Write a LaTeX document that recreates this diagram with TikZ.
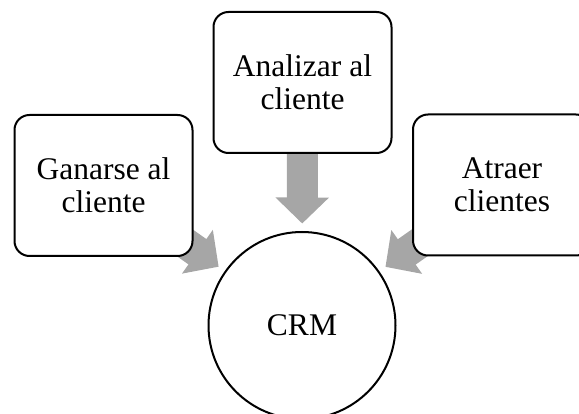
\documentclass[tikz,border=0pt]{standalone}
\usepackage{fontspec}
\setmainfont{Liberation Serif}
\usetikzlibrary{arrows.meta,backgrounds}
\definecolor{arrowgray}{HTML}{A6A6A6}
\tikzset{
  box/.style={draw=black, line width=2pt, rounded corners=15pt, fill=white,
    minimum width=178pt, minimum height=141pt, inner sep=0pt, outer sep=0pt,
    align=center, font=\fontsize{31.5pt}{33pt}\selectfont},
  hub/.style={draw=black, line width=2pt, circle, fill=white,
    minimum size=187pt, inner sep=0pt, outer sep=0pt,
    font=\fontsize{31.5pt}{33pt}\selectfont},
  bigarrow/.style={draw=arrowgray, line width=31pt,
    -{Triangle[width=52pt,length=26pt,fill=arrowgray]}}
}
\begin{document}
\begin{tikzpicture}[x=1pt,y=-1pt]
\useasboundingbox (0,0) rectangle (579,414);
\clip (0,0) rectangle (579,414);
\node[box] (left) at (103.5,185.5) {Ganarse al\\cliente};
\node[box] (top) at (302.5,82.5) {Analizar al\\cliente};
\node[box] (right) at (502,185) {Atraer\\clientes};
\node[hub] (crm) at (302,325.5) {CRM};
\begin{scope}[on background layer]
\draw[bigarrow, shorten <=70.5pt, shorten >=102pt] (left.center) -- (crm.center);
\draw[bigarrow, shorten <=71pt, shorten >=102pt] (top.center) -- (crm.center);
\draw[bigarrow, shorten <=72.8pt, shorten >=102pt] (right.center) -- (crm.center);
\end{scope}
\end{tikzpicture}
\end{document}
